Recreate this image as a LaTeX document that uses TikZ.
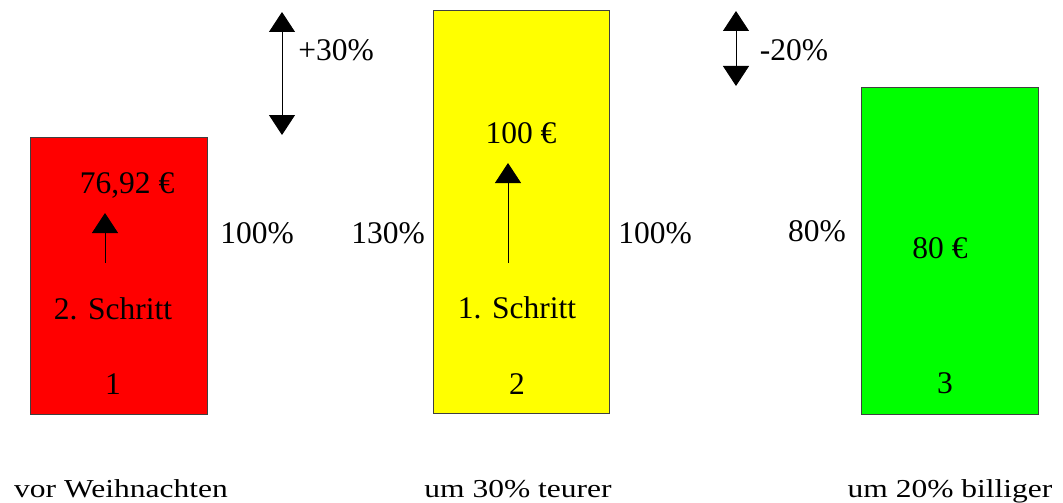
\documentclass[tikz,border=0pt]{standalone}
\usepackage{fontspec}
\setmainfont{Liberation Serif}
\usetikzlibrary{arrows.meta}
\begin{document}
\begin{tikzpicture}[x=1pt,y=-1pt,
  bar/.style={draw=black!75,line width=0.8pt,minimum width=177pt,inner sep=0pt,anchor=north west},
  lbl/.style={font=\fontsize{31.5}{38}\selectfont,anchor=base,inner sep=0pt},
  bottomlbl/.style={lbl,yscale=0.82},
  stepline/.style={line width=0.9pt,-{Triangle[width=26pt,length=20pt]}},
  changeline/.style={line width=0.9pt,{Triangle[width=26pt,length=20pt]}-{Triangle[width=26pt,length=20pt]}}]
\useasboundingbox (0,0) rectangle (1063,503);
% bars
\node[bar,fill={rgb,255:red,255;green,0;blue,0},minimum height=277pt] (red) at (30,137) {};
\node[bar,fill={rgb,255:red,255;green,255;blue,0},minimum width=176pt,minimum height=403pt] (yellow) at (433,10) {};
\node[bar,fill={rgb,255:red,0;green,255;blue,0},minimum height=327pt] (green) at (861,87) {};
% texts in red bar
\node[lbl] (p1) at (127,193) {76,92 €};
\node[lbl] (s2) at (113,319) {2. Schritt};
\node[lbl] (n1) at (113,394) {1};
\coordinate (r1) at (105,263);
\coordinate (r2) at (105,213);
\draw[stepline] (r1) -- (r2);
% texts in yellow bar
\node[lbl] (p2) at (521,143) {100 €};
\node[lbl] (s1) at (517,318) {1. Schritt};
\node[lbl] (n2) at (517,394) {2};
\coordinate (y1) at (508,263);
\coordinate (y2) at (508,163);
\draw[stepline] (y1) -- (y2);
% texts in green bar
\node[lbl] (p3) at (940,258) {80 €};
\node[lbl] (n3) at (945,393) {3};
% percentages
\node[lbl] (pc1) at (257,243) {100\%};
\node[lbl] (pc2) at (388,243) {130\%};
\node[lbl] (pc3) at (655,243) {100\%};
\node[lbl] (pc4) at (817,241) {80\%};
% change arrows
\coordinate (a1) at (282,12);
\coordinate (a2) at (282,135);
\draw[changeline] (a1) -- (a2);
\node[lbl] (plus) at (336,61) {+30\%};
\coordinate (b1) at (736,11);
\coordinate (b2) at (736,86);
\draw[changeline] (b1) -- (b2);
\node[lbl] (minus) at (794,61) {-20\%};
% bottom captions
\node[bottomlbl] (c1) at (121,497) {vor Weihnachten};
\node[bottomlbl] (c2) at (518,497) {um 30\% teurer};
\node[bottomlbl] (c3) at (950,497) {um 20\% billiger};
\end{tikzpicture}
\end{document}
